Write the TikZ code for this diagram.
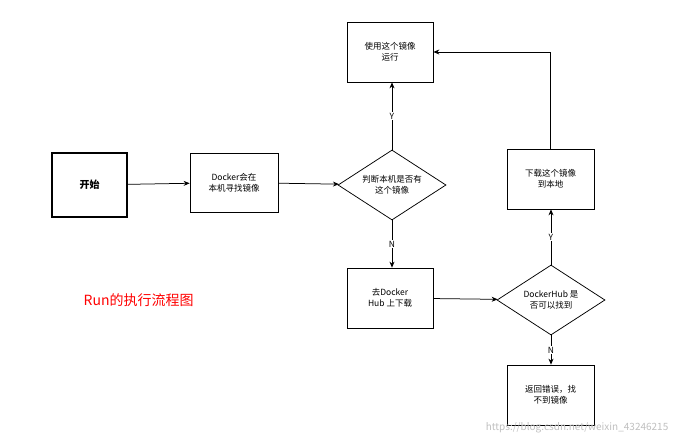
\documentclass[tikz,border=0pt]{standalone}
\usepackage{fontspec}
\setmainfont{Noto Sans CJK SC}
\usetikzlibrary{shapes.geometric,arrows.meta}
\tikzset{every picture/.style={line width=0.75pt}}
\tikzset{
  box/.style={draw,fill=white,minimum width=86pt,minimum height=60pt,align=center,font=\fontsize{8.5}{11}\selectfont},
  dia/.style={draw,fill=white,diamond,aspect=1.55,minimum width=108pt,minimum height=70pt,inner sep=0pt,align=center,font=\fontsize{8.5}{11}\selectfont},
  arr/.style={-{Stealth[length=6pt,width=5pt]}},
  lbl/.style={font=\fontsize{8.5}{10}\selectfont,fill=white,inner sep=1pt}
}
\begin{document}
\begin{tikzpicture}[x=1pt,y=1pt,yscale=-1]
\useasboundingbox (0,0) rectangle (680,445);

% Nodes
\node [box,minimum width=75pt,minimum height=64pt,line width=1.5pt,font=\fontsize{10}{12}\selectfont\bfseries] (start) at (89.5,185) {开始};
\node [box,minimum width=88pt,minimum height=59pt] (local) at (234,182.5) {Docker会在\\本机寻找镜像};
\node [dia] (check) at (392,185) {判断本机是否有\\这个镜像};
\node [box] (run) at (390,52) {使用这个镜像\\运行};
\node [box] (pull) at (390,298) {去Docker\\Hub 上下载};
\node [dia] (hub) at (551,300) {DockerHub 是\\否可以找到};
\node [box,minimum width=87pt] (save) at (550.5,179) {下载这个镜像\\到本地};
\node [box,minimum width=87pt] (err) at (550.5,395) {返回错误，找\\不到镜像};

% Connectors
\draw [arr] (start) -- (local);
\draw [arr] (local) -- (check);
\draw [arr] (check.north) -- node [lbl] {Y} (run.south -| check.north);
\draw [arr] (check.south) -- node [lbl] {N} (pull.north -| check.south);
\draw [arr] (pull) -- (hub);
\draw [arr] (hub.north) -- node [lbl] {Y} (save.south -| hub.north);
\draw [arr] (hub.south) -- node [lbl] {N} (err.north -| hub.south);
\draw [arr] (save.north) |- (run.east);

% Text Node
\node [text=red,font=\fontsize{14}{16}\selectfont,anchor=west] (title) at (80,300) {Run的执行流程图};
\node [text=black!25,font=\fontsize{10}{12}\selectfont,anchor=east] (mark) at (672,428) {https://blog.csdn.net/weixin\_43246215};
\end{tikzpicture}
\end{document}
